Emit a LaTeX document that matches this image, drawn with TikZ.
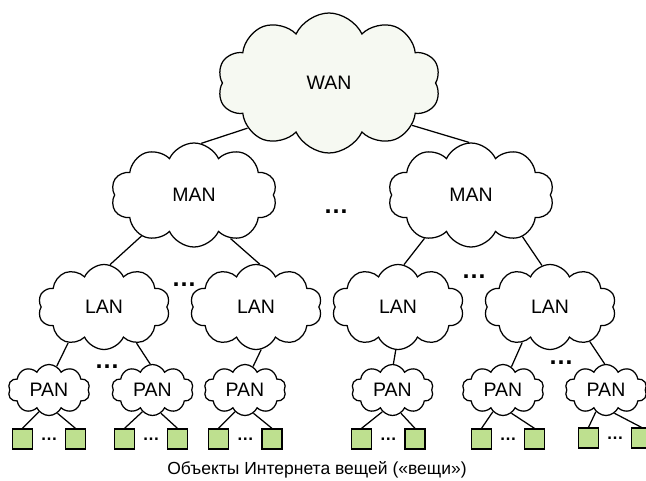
\documentclass[tikz,border=0pt]{standalone}
\usepackage{fontspec}
\setmainfont{Liberation Sans}
\usetikzlibrary{shapes.symbols}
\usetikzlibrary{calc}
\definecolor{wanfill}{RGB}{246,249,242}
\definecolor{thingfill}{RGB}{190,224,143}

\begin{document}
\begin{tikzpicture}[x=1pt, y=-1pt, line width=1.25pt,
    net/.style={cloud, cloud puffs=10, cloud puff arc=130, cloud ignores aspect, draw, inner sep=0pt, font=\fontsize{19.5}{20}\selectfont},
    wannet/.style={net, fill=wanfill, minimum width=223pt, minimum height=140pt},
    mannet/.style={net, minimum width=166pt, minimum height=104pt},
    lannet/.style={net, minimum width=132pt, minimum height=85pt},
    pannet/.style={net, minimum width=82pt, minimum height=51pt},
    thing/.style={draw, fill=thingfill, minimum size=20pt, inner sep=0pt},
    bigdots/.style={font=\fontsize{25}{25}\selectfont\bfseries, inner sep=0pt},
    smalldots/.style={font=\fontsize{17}{17}\selectfont\bfseries, inner sep=0pt}]
    \useasboundingbox (0,0) rectangle (646,480);
    \clip (0,0) rectangle (646,480);

    % clouds
    \node[wannet] (wan) at (329, 83) {WAN};
    \node[mannet] (manl) at (194, 195) {MAN};
    \node[mannet] (manr) at (471, 195) {MAN};
    \node[lannet] (lan1) at (104, 307) {LAN};
    \node[lannet] (lan2) at (256, 307) {LAN};
    \node[lannet] (lan3) at (398, 307) {LAN};
    \node[lannet] (lan4) at (550, 307) {LAN};
    \node[pannet] (pan1) at (49, 390) {PAN};
    \node[pannet] (pan2) at (152.5, 390) {PAN};
    \node[pannet] (pan3) at (245, 390) {PAN};
    \node[pannet] (pan4) at (392.5, 390) {PAN};
    \node[pannet] (pan5) at (503, 390) {PAN};
    \node[pannet] (pan6) at (606, 390) {PAN};

    \node[bigdots] (dotsman) at (336, 212) {…};
    \node[bigdots] (dotslana) at (184, 285) {…};
    \node[bigdots] (dotslanb) at (474, 277) {…};
    \node[bigdots] (dotspana) at (107, 367) {…};
    \node[bigdots] (dotspanb) at (561, 363) {…};

    \draw (wan.209) -- (manl.82);
    \draw (wan.333) -- (manr.92);
    \draw (manl.218) -- (lan1.82);
    \draw (manl.310) -- (lan2.85);
    \draw (manr.223) -- (lan3.82);
    \draw (manr.321) -- (lan4.101);
    \draw (lan1.225) -- (pan1.72);
    \draw (lan1.312) -- (pan2.95);
    \draw (lan2.277) -- (pan3.71);
    \draw (lan3.267) -- (pan4.88);
    \draw (lan4.232) -- (pan5.70);
    \draw (lan4.319) -- (pan6.93);

    % things
    \foreach \p/\xa/\xb/\y in {1/22.5/75.5/439, 2/124.5/177.5/439, 3/218.5/272/439,
                               4/361.5/415/439, 5/481.5/534.5/439, 6/588.5/641.5/438} {
        \node[thing] (sq\p a) at (\xa, \y) {};
        \node[thing] (sq\p b) at (\xb, \y) {};
        \node[smalldots] (dots\p) at ($(sq\p a)!0.5!(sq\p b)$) {…};
        \draw (pan\p.245) -- (sq\p a.north);
        \draw (pan\p.290) -- (sq\p b.north);
    }

    \node[font=\fontsize{17.5}{18}\selectfont, anchor=base] (caption) at (317, 474) {Объекты Интернета вещей («вещи»)};
\end{tikzpicture}
\end{document}
